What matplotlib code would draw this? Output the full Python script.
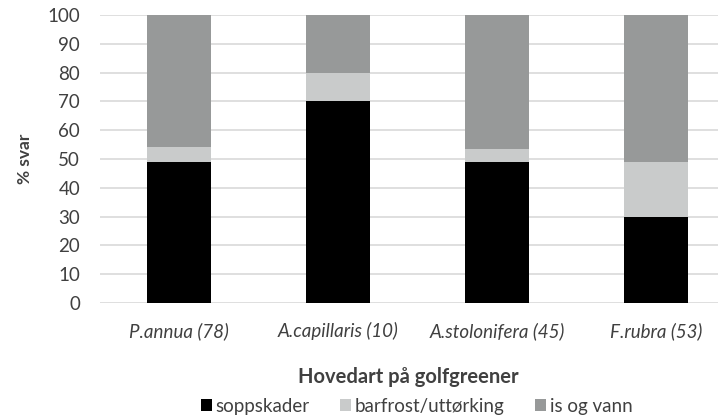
import numpy as np
import matplotlib.pyplot as plt

plt.rcParams['font.family'] = ['Lato', 'DejaVu Sans']

arter = ['P.annua (78)', 'A.capillaris (10)', 'A.stolonifera (45)', 'F.rubra (53)']
soppskader = [49, 70, 49, 30]
barfrost = [5, 10, 4.5, 19]
is_og_vann = [46, 20, 46.5, 51]

txt = '#404040'
fs = 13.5
fig = plt.figure(figsize=(7.18, 4.19), dpi=100)
ax = fig.add_axes([0.1386, 0.277, 0.886, 0.687])

x = np.arange(len(arter))
w = 0.40
bunn2 = np.array(soppskader)
bunn3 = bunn2 + np.array(barfrost)
ax.bar(x, soppskader, w, color='#000000', label='soppskader', zorder=3)
ax.bar(x, barfrost, w, bottom=bunn2, color='#c9cbcb', label='barfrost/uttørking', zorder=3)
ax.bar(x, is_og_vann, w, bottom=bunn3, color='#979999', label='is og vann', zorder=3)

ax.set_xlim(-0.5, len(arter) - 0.5)
ax.set_ylim(0, 100)
ax.set_yticks(range(0, 101, 10))
ax.yaxis.grid(True, color='#d9d9d9', linewidth=1.2, zorder=0)
for s in ax.spines.values():
    s.set_visible(False)
ax.tick_params(axis='both', length=0, labelsize=fs, colors=txt)
ax.tick_params(axis='y', pad=14)
ax.tick_params(axis='x', pad=14)
ax.set_xticks(x)
ax.set_xticklabels(arter, style='italic')

ax.set_ylabel('% svar', fontsize=fs - 1, fontweight='bold', color=txt, labelpad=10)

fig.text(0.569, 0.10, 'Hovedart på golfgreener', ha='center', va='center',
         fontsize=fs + 1, fontweight='bold', color=txt)
fig.legend(loc='center', bbox_to_anchor=(0.580, 0.03), ncol=3, frameon=False,
           fontsize=fs, handlelength=0.6, handleheight=0.6, handletextpad=0.2,
           columnspacing=1.6, labelcolor=txt)

fig.savefig('out.png', dpi=100)
